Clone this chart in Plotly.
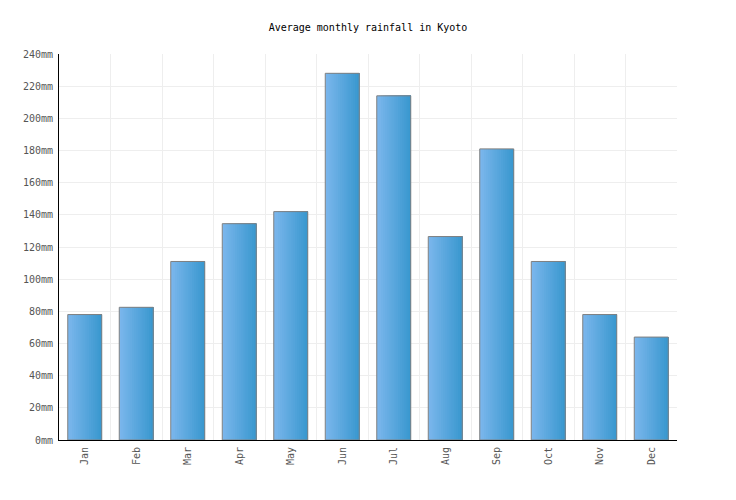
import plotly.graph_objects as go

months = ["Jan", "Feb", "Mar", "Apr", "May", "Jun", "Jul", "Aug", "Sep", "Oct", "Nov", "Dec"]
rainfall = [78, 82.5, 111, 134.5, 142, 228, 214, 126.5, 181, 111, 78, 64]
y_ticks = list(range(0, 241, 20))
y_tick_text = ["%dmm" % v for v in y_ticks]

x = list(range(len(months)))
bar_w = 0.66
n_slices = 16
c0 = (122, 182, 236)
c1 = (58, 152, 207)

fig = go.Figure()
sw = bar_w / n_slices
for i in range(n_slices):
    t = i / (n_slices - 1)
    col = "rgb(%d,%d,%d)" % tuple(round(a + (b - a) * t) for a, b in zip(c0, c1))
    fig.add_trace(go.Bar(
        x=x, y=rainfall, width=bar_w - i * sw, offset=-bar_w / 2 + i * sw,
        marker=dict(color=col, line=dict(width=0)), hoverinfo="skip", showlegend=False,
    ))
fig.add_trace(go.Bar(
    x=x, y=rainfall, width=bar_w, offset=-bar_w / 2,
    marker=dict(color="rgba(0,0,0,0)", line=dict(color="#808080", width=1)),
    showlegend=False, customdata=months, hovertemplate="%{customdata}: %{y}mm<extra></extra>",
))

font = "DejaVu Sans Mono, monospace"
fig.update_layout(
    width=736, height=500,
    margin=dict(l=59, r=59, t=54, b=60),
    barmode="overlay",
    paper_bgcolor="white", plot_bgcolor="white",
    title=dict(text="Average monthly rainfall in Kyoto", x=0.5, xanchor="center",
               y=1 - 27 / 500, yanchor="middle", font=dict(family=font, size=10, color="black")),
    font=dict(family=font, size=10, color="#555555"),
    xaxis=dict(
        range=[-0.5, len(months) - 0.5], tickvals=x, ticktext=months, tickangle=-90,
        showgrid=False, showline=True, linecolor="black", linewidth=1, ticks="",
        zeroline=False, ticklabelstandoff=2,
        minor=dict(tick0=-0.5, dtick=1, showgrid=True, gridcolor="#eeeeee", gridwidth=1, ticks=""),
        tickfont=dict(family=font, size=10, color="#555555"),
    ),
    yaxis=dict(
        range=[0, 240], tickvals=y_ticks, ticktext=y_tick_text, showgrid=True, gridcolor="#eeeeee",
        showline=True, linecolor="black", linewidth=1, zeroline=False, ticks="",
        ticklabelstandoff=3,
        tickfont=dict(family=font, size=10, color="#555555"),
    ),
)
fig.write_html("out.html")
